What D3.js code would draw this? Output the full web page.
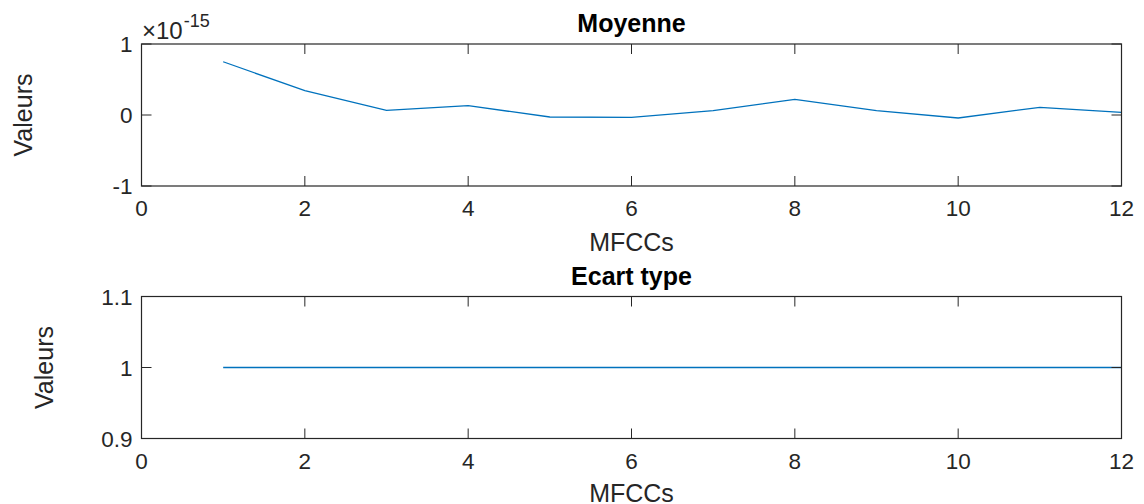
<!DOCTYPE html>
<html>
<head>
<meta charset="utf-8">
<script src="https://cdn.jsdelivr.net/npm/d3@7"></script>
<style>
  html, body { margin: 0; padding: 0; background: #fff; }
  svg { display: block; font-family: "Liberation Sans", Arial, Helvetica, sans-serif; }
</style>
</head>
<body>
<svg id="chart" width="1144" height="504"></svg>
<script>
// MFCC indices
const mfccIndex = [1, 2, 3, 4, 5, 6, 7, 8, 9, 10, 11, 12];
// Mean of each coefficient (in units of 1e-15)
const meanValues = [0.75, 0.342, 0.066, 0.131, -0.028, -0.033, 0.061, 0.221, 0.061, -0.042, 0.108, 0.038];
// Standard deviation of each coefficient
const stdValues = [1, 1, 1, 1, 1, 1, 1, 1, 1, 1, 1, 1];

const xTicks = [0, 2, 4, 6, 8, 10, 12];
const meanTicks = [-1, 0, 1];
const stdTicks = [0.9, 1, 1.1];

const svg = d3.select("#chart");
const axisColor = "#262626";
const lineColor = "#0072BD";
const tickLen = 10;

function panel(cfg) {
  const { top, bottom, left, right, yDomain, yTicks, values, title, titleY, ylabelX, yFormat, xlabelY } = cfg;
  const x = d3.scaleLinear().domain([0, 12]).range([left, right]);
  const y = d3.scaleLinear().domain(yDomain).range([bottom, top]);
  const g = svg.append("g");

  // data line
  g.append("path")
    .datum(mfccIndex.map((d, i) => [d, values[i]]))
    .attr("fill", "none")
    .attr("stroke", lineColor)
    .attr("stroke-width", 1.3)
    .attr("d", d3.line().x(d => x(d[0])).y(d => y(d[1])));

  // inward ticks on all four sides
  const ticks = g.append("g").attr("stroke", axisColor).attr("stroke-width", 1);
  xTicks.forEach(t => {
    ticks.append("line").attr("x1", x(t)).attr("x2", x(t)).attr("y1", bottom).attr("y2", bottom - tickLen);
    ticks.append("line").attr("x1", x(t)).attr("x2", x(t)).attr("y1", top).attr("y2", top + tickLen);
  });
  yTicks.forEach(t => {
    ticks.append("line").attr("x1", left).attr("x2", left + tickLen).attr("y1", y(t)).attr("y2", y(t));
    ticks.append("line").attr("x1", right).attr("x2", right - tickLen).attr("y1", y(t)).attr("y2", y(t));
  });

  // box
  g.append("rect")
    .attr("x", left).attr("y", top)
    .attr("width", right - left).attr("height", bottom - top)
    .attr("fill", "none").attr("stroke", axisColor).attr("stroke-width", 1.2);

  // x tick labels
  g.append("g").selectAll("text").data(xTicks).join("text")
    .attr("x", d => x(d)).attr("y", bottom + 30)
    .attr("text-anchor", "middle")
    .attr("font-size", 22.5).attr("fill", axisColor)
    .text(d => d);

  // y tick labels
  g.append("g").selectAll("text").data(yTicks).join("text")
    .attr("x", left - 9).attr("y", d => y(d) + 8)
    .attr("text-anchor", "end")
    .attr("font-size", 22.5).attr("fill", axisColor)
    .text(yFormat);

  // x label
  g.append("text")
    .attr("x", (left + right) / 2).attr("y", xlabelY)
    .attr("text-anchor", "middle")
    .attr("font-size", 25).attr("fill", axisColor)
    .text("MFCCs");

  // y label
  g.append("text")
    .attr("transform", `translate(${ylabelX},${(top + bottom) / 2}) rotate(-90)`)
    .attr("text-anchor", "middle")
    .attr("dy", "0.35em")
    .attr("font-size", 25).attr("fill", axisColor)
    .text("Valeurs");

  // title
  g.append("text")
    .attr("x", (left + right) / 2).attr("y", titleY)
    .attr("text-anchor", "middle")
    .attr("font-size", 25).attr("font-weight", "bold").attr("fill", "#000")
    .text(title);

  return { x, y };
}

panel({
  top: 44, bottom: 186, left: 141.5, right: 1121.5,
  yDomain: [-1, 1], yTicks: meanTicks, values: meanValues,
  title: "Moyenne", titleY: 32, ylabelX: 23, xlabelY: 250.5,
  yFormat: d => d
});

// exponent multiplier for the mean axis
const expo = svg.append("text")
  .attr("x", 142).attr("y", 39)
  .attr("font-size", 24).attr("fill", axisColor);
expo.append("tspan").text("\u00D7");
expo.append("tspan").text("10");
expo.append("tspan").attr("font-size", 18).attr("dy", -12).attr("dx", 1).text("-15");

panel({
  top: 296.5, bottom: 438.5, left: 141.5, right: 1121.5,
  yDomain: [0.9, 1.1], yTicks: stdTicks, values: stdValues,
  title: "Ecart type", titleY: 285, ylabelX: 44, xlabelY: 502,
  yFormat: d => d === 1 ? "1" : d3.format(".1f")(d)
});
</script>
</body>
</html>
